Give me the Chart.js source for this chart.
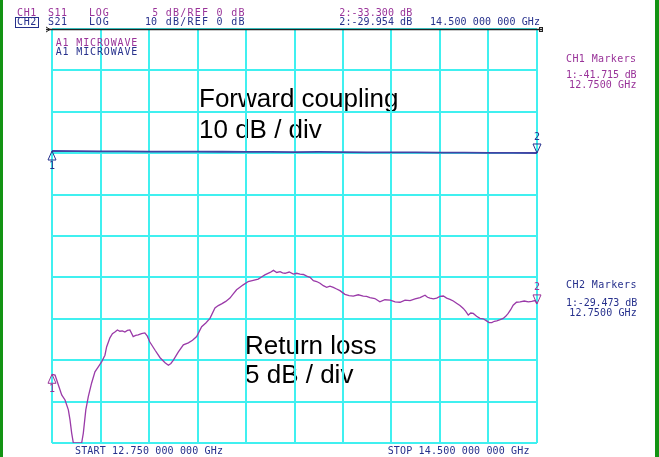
<!DOCTYPE html>
<html><head><meta charset="utf-8">
<script src="https://cdn.jsdelivr.net/npm/chart.js@4.4.1/dist/chart.umd.min.js"></script>
<style>html,body{margin:0;padding:0;background:#fff;overflow:hidden}#wrap{position:relative;width:659px;height:457px}</style>
</head><body><div id="wrap"><canvas id="c" width="659" height="457"></canvas></div>
<script>
// ---- data ----
const xTicks = [12.75, 12.925, 13.1, 13.275, 13.45, 13.625, 13.8, 13.975, 14.15, 14.325, 14.5];
const rlTicks = [0, -5, -10, -15, -20, -25, -30, -35, -40, -45, -50];
const fcTicks = [0, -10, -20, -30, -40, -50, -60, -70, -80, -90, -100];

const rlFreq = [12.750,12.761,12.773,12.785,12.797,12.809,12.815,12.821,12.827,12.842,12.857,12.863,12.872,12.881,12.893,12.905,12.917,12.929,12.941,12.947,12.959,12.968,12.977,12.986,12.995,13.004,13.013,13.022,13.031,13.043,13.052,13.061,13.073,13.085,13.094,13.103,13.122,13.140,13.158,13.170,13.179,13.188,13.206,13.224,13.242,13.257,13.272,13.290,13.305,13.320,13.338,13.350,13.362,13.377,13.392,13.404,13.416,13.428,13.440,13.458,13.476,13.494,13.506,13.518,13.537,13.549,13.561,13.573,13.582,13.591,13.606,13.621,13.633,13.645,13.657,13.669,13.681,13.693,13.705,13.717,13.729,13.741,13.753,13.765,13.777,13.789,13.807,13.822,13.837,13.855,13.873,13.885,13.897,13.915,13.933,13.951,13.970,13.988,14.006,14.024,14.042,14.060,14.078,14.096,14.105,14.114,14.126,14.138,14.150,14.162,14.174,14.186,14.198,14.211,14.222,14.234,14.243,14.252,14.261,14.270,14.282,14.294,14.306,14.318,14.327,14.337,14.346,14.355,14.367,14.378,14.387,14.396,14.405,14.414,14.426,14.439,14.454,14.469,14.481,14.493,14.500];
const rlDb = [-41.7,-41.8,-43.0,-44.2,-44.8,-46.0,-47.2,-48.8,-50,-50,-50,-48.8,-46.0,-44.4,-42.75,-41.4,-40.8,-40.2,-39.4,-38.4,-37.3,-36.8,-36.6,-36.35,-36.5,-36.45,-36.6,-36.4,-36.35,-37.15,-37.0,-36.95,-36.8,-36.7,-37.1,-37.8,-38.8,-39.7,-40.3,-40.6,-40.4,-40.0,-39.0,-38.15,-37.9,-37.6,-37.15,-35.95,-35.5,-34.95,-33.7,-33.4,-33.2,-32.9,-32.5,-32.0,-31.5,-31.2,-30.9,-30.5,-30.35,-30.2,-29.95,-29.7,-29.4,-29.15,-29.4,-29.3,-29.45,-29.5,-29.35,-29.6,-29.5,-29.6,-29.65,-29.85,-30.0,-30.4,-30.5,-30.7,-31.0,-31.2,-31.05,-31.2,-31.4,-31.6,-32.05,-32.2,-32.25,-32.1,-32.25,-32.3,-32.45,-32.55,-32.95,-32.7,-32.75,-32.95,-33.0,-32.75,-32.8,-32.6,-32.45,-32.15,-32.4,-32.5,-32.6,-32.5,-32.3,-32.25,-32.5,-32.65,-32.85,-33.15,-33.4,-33.75,-34.1,-34.55,-34.3,-34.35,-34.7,-34.95,-35.0,-35.25,-35.45,-35.45,-35.3,-35.25,-35.1,-34.95,-34.7,-34.35,-33.9,-33.35,-33.0,-32.95,-32.85,-32.95,-32.9,-32.8,-33.2];

const fcFreq = [12.75,12.8375,12.925,13.0125,13.1,13.1875,13.275,13.3625,13.45,13.5375,13.625,13.7125,13.8,13.8875,13.975,14.0625,14.15,14.2375,14.325,14.4125,14.5];
const fcDb = [-29.47,-29.52,-29.55,-29.58,-29.60,-29.62,-29.60,-29.65,-29.68,-29.70,-29.72,-29.70,-29.74,-29.78,-29.80,-29.82,-29.85,-29.87,-29.90,-29.92,-29.95];

const PURPLE = '#993399';
const TRACE = '#9a3aa8';
const NAVY = '#26308c';
const FCLINE = '#4343a3';
const GRID = '#40f0f0';
const SMALL_FONT = '10px "DejaVu Sans Mono", monospace';

function fitText(ctx, s, x, y, w) {
  ctx.letterSpacing = '0px';
  const n = s.length;
  const w0 = ctx.measureText(s).width;
  if ('letterSpacing' in ctx && n > 1) {
    const ls = (w - w0) / n;
    ctx.letterSpacing = ls.toFixed(2) + 'px';
    ctx.fillText(s, x, y);
    ctx.letterSpacing = '0px';
  } else {
    ctx.save(); ctx.translate(x, y); ctx.scale(w / w0, 1); ctx.fillText(s, 0, 0); ctx.restore();
  }
}

const labelsPlugin = {
  id: 'labels',
  beforeDraw(chart) {
    const ctx = chart.ctx;
    ctx.save();
    ctx.fillStyle = '#000';
    ctx.font = '26px "Liberation Sans", Arial, sans-serif';
    ctx.textBaseline = 'alphabetic';
    ctx.textAlign = 'left';
    ctx.fillText('Forward coupling', 199, 107);
    ctx.fillText('10 dB / div', 199, 138);
    ctx.fillText('Return loss', 245, 354);
    ctx.fillText('5 dB / div', 245, 383);
    ctx.restore();
  },
  afterDatasetsDraw(chart) {
    const ctx = chart.ctx;
    const xs = chart.scales.x, ys = chart.scales.y, y2 = chart.scales.y2;
    ctx.save();
    ctx.lineWidth = 1;
    ctx.font = SMALL_FONT;
    ctx.textAlign = 'center';
    ctx.textBaseline = 'middle';
    function upMarker(x, y, color, lab) {
      ctx.strokeStyle = color; ctx.fillStyle = color;
      ctx.beginPath(); ctx.moveTo(x, y); ctx.lineTo(x - 4, y + 9); ctx.lineTo(x + 4, y + 9); ctx.closePath(); ctx.stroke();
      ctx.fillText(lab, x, y + 15);
    }
    function downMarker(x, y, color, lab) {
      ctx.strokeStyle = color; ctx.fillStyle = color;
      ctx.beginPath(); ctx.moveTo(x, y); ctx.lineTo(x - 4, y - 9); ctx.lineTo(x + 4, y - 9); ctx.closePath(); ctx.stroke();
      ctx.fillText(lab, x, y - 16);
    }
    upMarker(xs.getPixelForValue(fcFreq[0]), y2.getPixelForValue(fcDb[0]), NAVY, '1');
    downMarker(xs.getPixelForValue(fcFreq[fcFreq.length - 1]), y2.getPixelForValue(fcDb[fcDb.length - 1]), NAVY, '2');
    upMarker(xs.getPixelForValue(rlFreq[0]), ys.getPixelForValue(rlDb[0]), PURPLE, '1');
    downMarker(xs.getPixelForValue(rlFreq[rlFreq.length - 1]), ys.getPixelForValue(rlDb[rlDb.length - 1]), PURPLE, '2');
    ctx.restore();
  },
  afterDraw(chart) {
    const ctx = chart.ctx;
    ctx.save();
    // green side bars
    ctx.fillStyle = '#139313';
    ctx.fillRect(0, 0, 3, 457);
    ctx.fillRect(655, 0, 4, 457);
    // top black border
    ctx.strokeStyle = '#222';
    ctx.lineWidth = 1.5;
    ctx.beginPath(); ctx.moveTo(46, 29.5); ctx.lineTo(542, 29.5); ctx.stroke();
    ctx.lineWidth = 1;
    ctx.beginPath(); ctx.moveTo(46, 27); ctx.lineTo(50, 29.5); ctx.lineTo(46, 32); ctx.stroke();
    ctx.strokeRect(539.5, 27.5, 3, 4);

    ctx.font = SMALL_FONT;
    ctx.textBaseline = 'middle';
    ctx.textAlign = 'left';
    // CH1 (purple) texts
    ctx.fillStyle = PURPLE;
    fitText(ctx, 'CH1', 17, 13, 20);
    fitText(ctx, 'S11', 48, 13, 19.5);
    fitText(ctx, 'LOG', 89, 13, 20.5);
    fitText(ctx, '5', 152.5, 13, 5.5);
    fitText(ctx, 'dB/REF 0 dB', 165.7, 13, 80);
    fitText(ctx, '2:-33.300 dB', 339.3, 13, 73);
    fitText(ctx, 'A1 MICROWAVE', 55.7, 43, 82.5);
    fitText(ctx, 'CH1 Markers', 566, 59.5, 70.5);
    fitText(ctx, '1:-41.715 dB', 566, 75, 70.5);
    fitText(ctx, '12.7500 GHz', 569, 85, 67.5);
    // CH2 (navy) texts
    ctx.fillStyle = NAVY;
    ctx.strokeStyle = NAVY;
    ctx.lineWidth = 1;
    ctx.strokeRect(15.5, 17.5, 23, 10);
    fitText(ctx, 'CH2', 17, 22.5, 20);
    fitText(ctx, 'S21', 48, 22, 19.5);
    fitText(ctx, 'LOG', 89, 22, 20.5);
    fitText(ctx, '10', 145, 22, 12);
    fitText(ctx, 'dB/REF 0 dB', 165.7, 22, 80);
    fitText(ctx, '2:-29.954 dB', 339.3, 22, 73);
    fitText(ctx, '14.500 000 000 GHz', 430, 22, 110);
    fitText(ctx, 'A1 MICROWAVE', 55.7, 52, 82.5);
    fitText(ctx, 'CH2 Markers', 566, 285.5, 71);
    fitText(ctx, '1:-29.473 dB', 566, 303.5, 71);
    fitText(ctx, '12.7500 GHz', 569.3, 313.5, 67.5);
    fitText(ctx, 'START 12.750 000 000 GHz', 75, 451, 148);
    fitText(ctx, 'STOP 14.500 000 000 GHz', 387.7, 451, 142);
    ctx.restore();
  }
};

const gridOpts = { color: GRID, lineWidth: 2, drawTicks: false };

new Chart(document.getElementById('c'), {
  type: 'line',
  data: {
    datasets: [
      {
        label: 'S21 Forward coupling',
        data: fcFreq.map((f, i) => ({ x: f, y: fcDb[i] })),
        yAxisID: 'y2',
        borderColor: FCLINE,
        borderWidth: 1.8,
        pointRadius: 0,
        tension: 0,
        fill: false
      },
      {
        label: 'S11 Return loss',
        data: rlFreq.map((f, i) => ({ x: f, y: rlDb[i] })),
        yAxisID: 'y',
        borderColor: TRACE,
        borderWidth: 1.3,
        pointRadius: 0,
        tension: 0,
        fill: false
      }
    ]
  },
  options: {
    responsive: false,
    animation: false,
    events: [],
    layout: { padding: { left: 52, right: 122, top: 29, bottom: 14 } },
    plugins: { legend: { display: false }, tooltip: { enabled: false }, title: { display: false } },
    scales: {
      x: {
        type: 'linear', min: xTicks[0], max: xTicks[xTicks.length - 1],
        ticks: { display: false },
        grid: gridOpts,
        border: { display: false },
        afterBuildTicks: (s) => { s.ticks = xTicks.map(v => ({ value: v })); }
      },
      y: {
        type: 'linear', min: rlTicks[rlTicks.length - 1], max: rlTicks[0],
        ticks: { display: false },
        grid: gridOpts,
        border: { display: false },
        afterBuildTicks: (s) => { s.ticks = rlTicks.map(v => ({ value: v })); }
      },
      y2: {
        type: 'linear', min: fcTicks[fcTicks.length - 1], max: fcTicks[0],
        display: false,
        afterBuildTicks: (s) => { s.ticks = fcTicks.map(v => ({ value: v })); }
      }
    }
  },
  plugins: [labelsPlugin]
});
</script>
</body></html>
